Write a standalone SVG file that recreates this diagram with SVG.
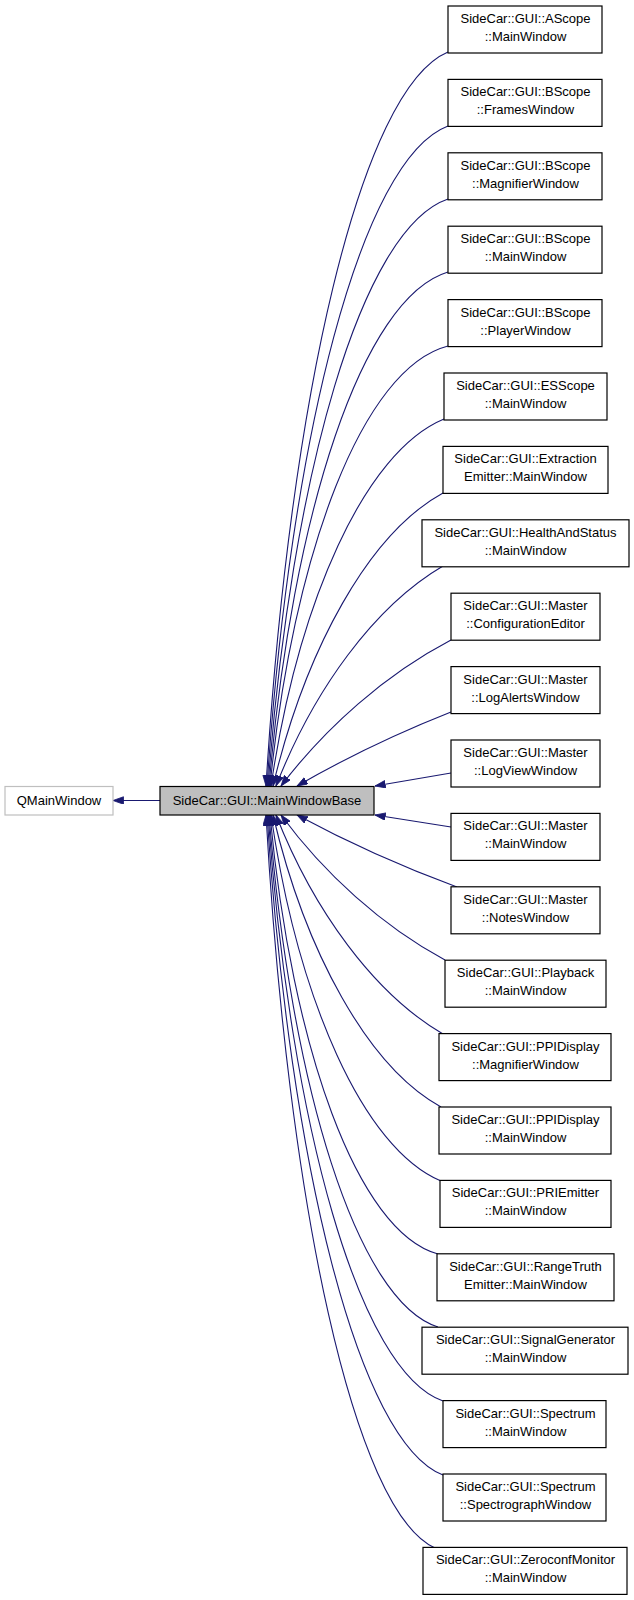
<svg xmlns="http://www.w3.org/2000/svg" width="634" height="1600" viewBox="0 0 634 1600">
<style>
text{font-family:"Liberation Sans",Arial,Helvetica,sans-serif;font-size:13px;fill:#000;text-anchor:middle}
.n rect{fill:#fff;stroke:#000;stroke-width:1.2}
#edges path{fill:none;stroke:#191970;stroke-width:1.1;marker-end:url(#ah)}
</style>
<defs>
<marker id="ah" markerUnits="userSpaceOnUse" markerWidth="11" markerHeight="8" refX="10.5" refY="3.75" orient="auto">
<path d="M0,0 L10.5,3.75 L0,7.5 z" fill="#191970" stroke="#191970" stroke-width="0.8"/>
</marker>
</defs>
<rect width="634" height="1600" fill="#fff"/>
<g id="edges">
<path d="M160,800.5 L113,800.5"/>
<path d="M448,52 C360.6,88.7 289.7,397 266,786"/>
<path d="M448,126 C361.1,159 290.5,436.2 267,786"/>
<path d="M448,199 C361.6,228.4 291.4,474.9 268,786"/>
<path d="M448,272 C362.1,297.7 292.3,513.6 269,786"/>
<path d="M448,346 C362.6,368 293.1,552.8 270,786"/>
<path d="M444,419 C364.5,452 298.4,601.6 271,786"/>
<path d="M443,493 C369.1,533.4 305.8,648.6 273,786"/>
<path d="M443,566 C374.3,606.3 313.7,689.8 276,786"/>
<path d="M451,640 C385.6,674.2 325.6,727.3 281,786"/>
<path d="M451,712 C396.3,733.6 343.6,759.1 297,786"/>
<path d="M451,773 L375,786"/>
<path d="M451,827 L375,815"/>
<path d="M457,887 C400.2,866.1 345.4,841.1 297,815"/>
<path d="M445,960 C381.9,926.1 324,873.3 281,815"/>
<path d="M443,1034 C374.3,993.9 313.7,910.8 276,815"/>
<path d="M441,1107 C368,1066.8 305.4,952 273,815"/>
<path d="M441,1181 C362.9,1148.2 297.9,998.9 271,815"/>
<path d="M438,1254 C357.4,1232 291.8,1047.7 270,815"/>
<path d="M438,1327 C356.9,1301.4 291,1086.4 269,815"/>
<path d="M443,1401 C359,1371.7 290.8,1125.6 268,815"/>
<path d="M443,1475 C358.5,1442 289.9,1164.8 267,815"/>
<path d="M435,1548 C353.9,1511.4 288,1203.5 266,815"/>
</g>
<g id="QMainWindow"><rect x="5" y="786.5" width="108" height="28.5" fill="#fff" stroke="#bfbfbf" stroke-width="1.2"/><text x="59" y="805">QMainWindow</text></g>
<g id="MainWindowBase"><rect x="160" y="786.5" width="214" height="28.5" fill="#bfbfbf" stroke="#000" stroke-width="1.2"/><text x="267" y="805">SideCar::GUI::MainWindowBase</text></g>
<g id="n0" class="n"><rect x="448" y="6" width="154" height="47"/><text x="525.5" y="23">SideCar::GUI::AScope</text><text x="525.5" y="41">::MainWindow</text></g>
<g id="n1" class="n"><rect x="448" y="79.4" width="154" height="47"/><text x="525.5" y="96.4">SideCar::GUI::BScope</text><text x="525.5" y="114.4">::FramesWindow</text></g>
<g id="n2" class="n"><rect x="448" y="152.8" width="154" height="47"/><text x="525.5" y="169.8">SideCar::GUI::BScope</text><text x="525.5" y="187.8">::MagnifierWindow</text></g>
<g id="n3" class="n"><rect x="448" y="226.2" width="154" height="47"/><text x="525.5" y="243.2">SideCar::GUI::BScope</text><text x="525.5" y="261.2">::MainWindow</text></g>
<g id="n4" class="n"><rect x="448" y="299.6" width="154" height="47"/><text x="525.5" y="316.6">SideCar::GUI::BScope</text><text x="525.5" y="334.6">::PlayerWindow</text></g>
<g id="n5" class="n"><rect x="444" y="373" width="163" height="47"/><text x="525.5" y="390">SideCar::GUI::ESScope</text><text x="525.5" y="408">::MainWindow</text></g>
<g id="n6" class="n"><rect x="443" y="446.4" width="165" height="47"/><text x="525.5" y="463.4">SideCar::GUI::Extraction</text><text x="525.5" y="481.4">Emitter::MainWindow</text></g>
<g id="n7" class="n"><rect x="422" y="519.8" width="207" height="47"/><text x="525.5" y="536.8">SideCar::GUI::HealthAndStatus</text><text x="525.5" y="554.8">::MainWindow</text></g>
<g id="n8" class="n"><rect x="451" y="593.2" width="149" height="47"/><text x="525.5" y="610.2">SideCar::GUI::Master</text><text x="525.5" y="628.2">::ConfigurationEditor</text></g>
<g id="n9" class="n"><rect x="451" y="666.6" width="149" height="47"/><text x="525.5" y="683.6">SideCar::GUI::Master</text><text x="525.5" y="701.6">::LogAlertsWindow</text></g>
<g id="n10" class="n"><rect x="451" y="740" width="149" height="47"/><text x="525.5" y="757">SideCar::GUI::Master</text><text x="525.5" y="775">::LogViewWindow</text></g>
<g id="n11" class="n"><rect x="451" y="813.4" width="149" height="47"/><text x="525.5" y="830.4">SideCar::GUI::Master</text><text x="525.5" y="848.4">::MainWindow</text></g>
<g id="n12" class="n"><rect x="451" y="886.8" width="149" height="47"/><text x="525.5" y="903.8">SideCar::GUI::Master</text><text x="525.5" y="921.8">::NotesWindow</text></g>
<g id="n13" class="n"><rect x="445" y="960.2" width="161" height="47"/><text x="525.5" y="977.2">SideCar::GUI::Playback</text><text x="525.5" y="995.2">::MainWindow</text></g>
<g id="n14" class="n"><rect x="439" y="1033.6" width="172" height="47"/><text x="525.5" y="1050.6">SideCar::GUI::PPIDisplay</text><text x="525.5" y="1068.6">::MagnifierWindow</text></g>
<g id="n15" class="n"><rect x="439" y="1107" width="172" height="47"/><text x="525.5" y="1124">SideCar::GUI::PPIDisplay</text><text x="525.5" y="1142">::MainWindow</text></g>
<g id="n16" class="n"><rect x="440" y="1180.4" width="171" height="47"/><text x="525.5" y="1197.4">SideCar::GUI::PRIEmitter</text><text x="525.5" y="1215.4">::MainWindow</text></g>
<g id="n17" class="n"><rect x="437" y="1253.8" width="177" height="47"/><text x="525.5" y="1270.8">SideCar::GUI::RangeTruth</text><text x="525.5" y="1288.8">Emitter::MainWindow</text></g>
<g id="n18" class="n"><rect x="422" y="1327.2" width="206" height="47"/><text x="525.5" y="1344.2">SideCar::GUI::SignalGenerator</text><text x="525.5" y="1362.2">::MainWindow</text></g>
<g id="n19" class="n"><rect x="443" y="1400.6" width="163" height="47"/><text x="525.5" y="1417.6">SideCar::GUI::Spectrum</text><text x="525.5" y="1435.6">::MainWindow</text></g>
<g id="n20" class="n"><rect x="443" y="1474" width="163" height="47"/><text x="525.5" y="1491">SideCar::GUI::Spectrum</text><text x="525.5" y="1509">::SpectrographWindow</text></g>
<g id="n21" class="n"><rect x="423" y="1547.4" width="204" height="47"/><text x="525.5" y="1564.4">SideCar::GUI::ZeroconfMonitor</text><text x="525.5" y="1582.4">::MainWindow</text></g>
</svg>
